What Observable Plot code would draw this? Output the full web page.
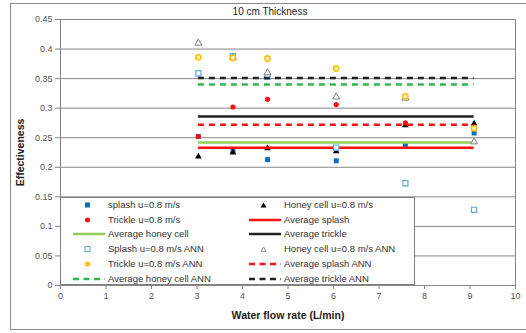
<!DOCTYPE html>
<html><head><meta charset="utf-8">
<script src="https://cdn.jsdelivr.net/npm/d3@7"></script>
<script src="https://cdn.jsdelivr.net/npm/@observablehq/plot@0.6"></script>
<style>
html,body{margin:0;padding:0;background:#fff;overflow:hidden;width:526px;height:333px;}
#wrap{position:relative;width:526px;height:333px;font-family:"Liberation Sans",Arial,sans-serif;}
#outer{position:absolute;left:10px;top:3px;width:530px;height:327px;border:1.5px solid #8a8a8a;box-sizing:border-box;pointer-events:none;}
#title{position:absolute;left:0;width:540px;top:6px;text-align:center;font-size:10px;color:#222;}
#legend{position:absolute;left:60px;top:197px;width:355px;height:88px;background:#fff;border:1px solid #808080;box-sizing:border-box;font-size:9.5px;color:#333;}
.row{position:absolute;height:14px;line-height:14px;white-space:nowrap;}
.row svg{position:absolute;top:0;}
.row span{position:absolute;top:0;}
svg g[aria-label="y-axis label"] text, svg g[aria-label="x-axis label"] text{font-weight:bold;font-size:10.5px;fill:#222;}
</style></head>
<body><div id="wrap"><div id="title">10 cm Thickness</div></div>
<script>
// ---- data ----
const flow = [3.03, 3.79, 4.55, 6.06, 7.58, 9.09];
const splash = [0.252, 0.228, 0.213, 0.211, 0.237, 0.258];
const honey = [0.218, 0.225, 0.232, 0.227, 0.271, 0.274];
const trickle = [0.252, 0.302, 0.315, 0.306, 0.275, 0.268];
const splashANN = [0.359, 0.388, 0.353, 0.233, 0.173, 0.128];
const honeyANN = [0.410, 0.386, 0.360, 0.319, 0.317, 0.243];
const trickleANN = [0.386, 0.385, 0.384, 0.367, 0.320, 0.266];
const avgNames = ["Average splash", "Average honey cell", "Average trickle", "Average splash ANN", "Average honey cell ANN", "Average trickle ANN"];
const avgValues = [0.233, 0.242, 0.286, 0.272, 0.340, 0.351];
const xTicks = [0,1,2,3,4,5,6,7,8,9,10];
const yTicks = [0,0.05,0.1,0.15,0.2,0.25,0.3,0.35,0.4,0.45];
const legendLabels = [
  "splash u=0.8 m/s","Honey cell u=0.8 m/s",
  "Trickle u=0.8 m/s","Average splash",
  "Average honey cell","Average trickle",
  "Splash u=0.8 m/s ANN","Honey cell u=0.8 m/s ANN",
  "Trickle u=0.8 m/s ANN","Average splash ANN",
  "Average honey cell ANN","Average trickle ANN"];

// ---- styles ----
const C = {blue:"#0a6fc2", red:"#ff1010", black:"#000", green:"#92cf58", lblue:"#5fa8e2", gray:"#7f7f7f", yellow:"#ffc000", dgreen:"#2db84d"};
const pts = (ys) => flow.map((x,i)=>({x, y: ys[i]}));
const avgRows = avgNames.map((n,i)=>({name:n, v:avgValues[i], x1:flow[0], x2:flow[flow.length-1]}));
const avgStyle = {
  "Average splash":{stroke:C.red, dash:null},
  "Average honey cell":{stroke:C.green, dash:null},
  "Average trickle":{stroke:"#222", dash:null},
  "Average splash ANN":{stroke:C.red, dash:"6,5"},
  "Average honey cell ANN":{stroke:C.dgreen, dash:"6,5"},
  "Average trickle ANN":{stroke:"#222", dash:"6,5"}
};
const solid = avgRows.filter(d=>!avgStyle[d.name].dash);
const dashed = avgRows.filter(d=>avgStyle[d.name].dash);

const fmtY = d => String(+d.toFixed(2));

const chart = Plot.plot({
  width:526, height:333,
  marginLeft:60, marginRight:11, marginTop:19, marginBottom:48,
  style:{fontFamily:"Liberation Sans, Arial, sans-serif", fontSize:"9px", color:"#444", background:"transparent"},
  x:{domain:[0,10]},
  y:{domain:[0,0.45]},
  marks:[
    Plot.gridY(yTicks, {stroke:"#868686", strokeOpacity:1}),
    Plot.frame({stroke:"#868686"}),
    Plot.axisX(xTicks, {tickSize:4, tickPadding:3, stroke:"#868686", fill:"#555", label:"Water flow rate (L/min)", labelAnchor:"center", labelArrow:"none", labelOffset:33}),
    Plot.axisY(yTicks, {tickSize:5, tickPadding:3, stroke:"#868686", fill:"#555", tickFormat:fmtY, label:"Effectiveness", labelAnchor:"center", labelArrow:"none", labelOffset:44}),
    Plot.dot(pts(splash), {x:"x", y:"y", symbol:"square", r:2.8, fill:C.blue}),
    Plot.dot(pts(honey), {x:"x", y:"y", symbol:"triangle", r:2.5, fill:C.black}),
    Plot.dot(pts(trickle), {x:"x", y:"y", symbol:"circle", r:2.6, fill:C.red}),
    Plot.ruleY(solid, {y:"v", x1:"x1", x2:"x2", stroke:d=>avgStyle[d.name].stroke, strokeWidth:2.5}),
    Plot.dot(pts(splashANN), {x:"x", y:"y", symbol:"square", r:2.9, stroke:C.lblue, fill:"white", strokeWidth:1.2}),
    Plot.dot(pts(honeyANN), {x:"x", y:"y", symbol:"triangle", r:2.6, stroke:C.gray, fill:"white", strokeWidth:1}),
    Plot.dot(pts(trickleANN), {x:"x", y:"y", symbol:"circle", r:2.6, stroke:C.yellow, fill:"#fff6d8", strokeWidth:1.6}),
    Plot.ruleY(dashed, {y:"v", x1:"x1", x2:"x2", stroke:d=>avgStyle[d.name].stroke, strokeWidth:2.6, strokeDasharray:"6,5"})
  ]
});
const wrap = document.getElementById("wrap");
chart.style.position="absolute"; chart.style.left="0"; chart.style.top="0";
wrap.appendChild(chart);

// ---- legend (HTML overlay) ----
const swatch = {
  "splash u=0.8 m/s": `<path d="M0,0" /><rect x="13" y="4.5" width="5" height="5" fill="${C.blue}"/>`,
  "Honey cell u=0.8 m/s": `<path d="M15.5,4.5 L18.5,9.5 L12.5,9.5 Z" fill="#000"/>`,
  "Trickle u=0.8 m/s": `<circle cx="15.5" cy="7" r="2.5" fill="${C.red}"/>`,
  "Splash u=0.8 m/s ANN": `<rect x="13" y="4.5" width="5" height="5" fill="white" stroke="${C.lblue}" stroke-width="1"/>`,
  "Honey cell u=0.8 m/s ANN": `<path d="M15.5,5 L18,9.3 L13,9.3 Z" fill="white" stroke="${C.gray}" stroke-width="0.9"/>`,
  "Trickle u=0.8 m/s ANN": `<circle cx="15.5" cy="7" r="2.6" fill="${C.yellow}"/>`
};
const lg = document.createElement("div"); lg.id="legend";
legendLabels.forEach((lab,i)=>{
  const col = i%2, row = Math.floor(i/2);
  const r = document.createElement("div"); r.className="row";
  r.style.top = (row*14.7 + 0) + "px";
  r.style.left = (col===0 ? 11 : 187) + "px";
  let sw = swatch[lab];
  if(!sw){ const s = avgStyle[lab]; sw = `<line x1="1" x2="33" y1="7" y2="7" stroke="${s.stroke}" stroke-width="2.5" ${s.dash?`stroke-dasharray="6,4.5"`:""}/>`; }
  r.innerHTML = `<svg width="34" height="14">${sw}</svg><span style="left:36px">${lab}</span>`;
  lg.appendChild(r);
});
wrap.appendChild(lg);
const outer = document.createElement("div"); outer.id="outer"; wrap.appendChild(outer);
</script>
</body></html>
